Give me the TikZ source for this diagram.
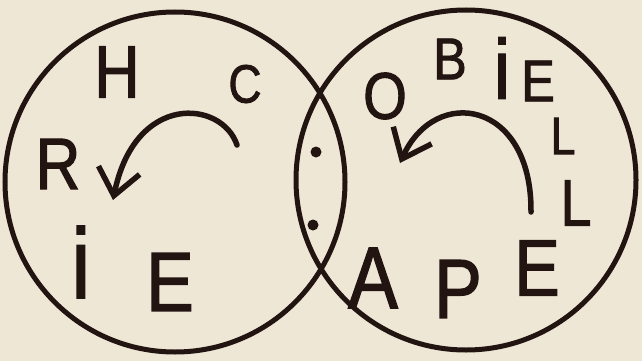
\documentclass[tikz,border=0pt]{standalone}
\usepackage{fontspec}
\setmainfont{Liberation Sans}[FakeStretch=0.85,FakeBold=1.5]
\usetikzlibrary{arrows.meta}
\definecolor{paper}{RGB}{239,231,214}
\definecolor{ink}{RGB}{34,20,16}

\begin{document}
\begin{tikzpicture}[
  x=1pt,y=-1pt,
  ring/.style={circle,draw=ink,line width=5pt,minimum size=340pt,inner sep=0pt},
  glyph/.style={inner sep=0pt,text=ink,font=\fontsize{#1}{#1}\selectfont},
  spot/.style={circle,fill=ink,minimum size=11pt,inner sep=0pt},
  turn/.style={draw=ink,line width=5.5pt,line cap=round,
               -{Straight Barb[length=26pt,width=42pt,line width=5.5pt]}},
]
\fill[paper] (0,0) rectangle (642,361);
% the two rings
\node[ring] (left) at (175,182) {};
\node[ring] (right) at (466,180) {};
\node[spot] (dotA) at (316,152) {};
\node[spot] (dotB) at (313,225) {};

% left ring letters
\node[glyph=74] (h) at (117,72) {H};
\node[glyph=54] (c) at (245,84) {C};
\node[glyph=73] (r) at (58,164) {R};
\node[glyph=100] (iL) at (81,262) {i};
\node[glyph=84] (eL) at (170,282) {E};
\draw[turn] (237,145) .. controls (222,100) and (135,92) .. (113,200);

% right ring letters
\node[glyph=66] (o) at (385,96) {O};
\node[glyph=59] (b) at (450,59) {B};
\node[glyph=85] (iR) at (502,68) {i};
\node[glyph=59] (eT) at (538,81) {E};
\node[glyph=53] (l1) at (563,136) {L};
\node[glyph=66] (l2) at (576,203) {L};
\node[glyph=80] (eB) at (537,268) {E};
\node[glyph=84] (p) at (458,289) {P};
\node[glyph=88] (a) at (373,278) {A};
\draw[turn] (531,212) .. controls (532,100) and (435,85) .. (400,163);
\end{tikzpicture}
\end{document}
